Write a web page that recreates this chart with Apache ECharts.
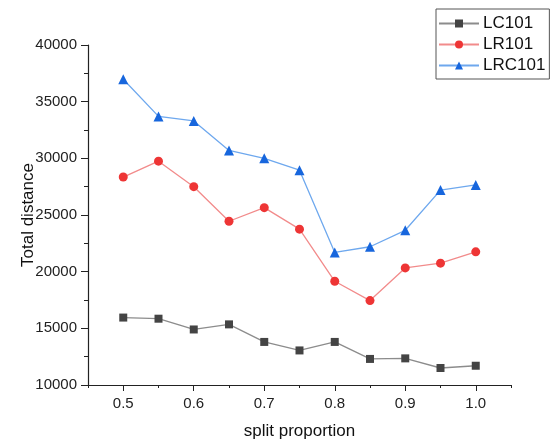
<!DOCTYPE html>
<html>
<head>
<meta charset="utf-8">
<script src="https://cdn.jsdelivr.net/npm/echarts@6/dist/echarts.min.js"></script>
<style>
html,body{margin:0;padding:0;background:#fff;}
#chart{width:551px;height:443px;}
</style>
</head>
<body>
<div id="chart"></div>
<script>
var proportions = [0.5, 0.55, 0.6, 0.65, 0.7, 0.75, 0.8, 0.85, 0.9, 0.95, 1.0];
var lc101  = [15950, 15850, 14900, 15350, 13800, 13050, 13800, 12300, 12350, 11500, 11700];
var lr101  = [28350, 29750, 27500, 24450, 25650, 23750, 19150, 17450, 20330, 20750, 21750];
var lrc101 = [36980, 33700, 33300, 30700, 30000, 28950, 21700, 22200, 23650, 27200, 27650];
var xMajorTicks = [0.5, 0.6, 0.7, 0.8, 0.9, 1.0];

function pairs(xs, ys){ return xs.map(function(x,i){ return [x, ys[i]]; }); }

var chart = echarts.init(document.getElementById('chart'), null, {renderer:'canvas'});
var axisColor = '#222';
var font = 'Liberation Sans, Arial, sans-serif';
chart.setOption({
  animation: false,
  backgroundColor: '#fff',
  grid: {left: 88, right: 40, top: 45, bottom: 58, containLabel: false, outerBoundsMode: 'none'},
  legend: {
    orient: 'vertical', left: 436, top: 9,
    padding: [6, 4, 5, 2],
    borderColor: '#555', borderWidth: 1, borderRadius: 0,
    itemWidth: 40, itemHeight: 10, itemGap: 4,
    textStyle: {fontFamily: font, fontSize: 17, color: '#111', padding: [0,0,0,-1]},
    data: ['LC101', 'LR101', 'LRC101']
  },
  xAxis: [{
    type: 'value', min: 0.45, max: 1.05, interval: 0.05,
    name: 'split proportion', nameLocation: 'middle', nameGap: 38, nameMoveOverlap: false,
    nameTextStyle: {fontFamily: font, fontSize: 17, color: '#111'},
    axisLine: {show: true, lineStyle: {color: axisColor, width: 1.2}},
    axisTick: {show: true, inside: false, length: 3, lineStyle: {color: axisColor}},
    axisLabel: {show: true, margin: 11, fontFamily: font, fontSize: 15, color: '#222',
      formatter: function(v){ var r = Math.round(v*100); return (r % 10 === 0) ? (r/100).toFixed(1) : ''; }},
    splitLine: {show: false}
  }, {
    type: 'value', min: 0.45, max: 1.05, interval: 0.05, position: 'bottom', gridIndex: 0,
    axisLine: {show: false},
    axisTick: {show: true, inside: false, length: 6, customValues: xMajorTicks, lineStyle: {color: axisColor}},
    axisLabel: {show: false},
    splitLine: {show: false}
  }],
  yAxis: {
    type: 'value', min: 10000, max: 40000, interval: 5000,
    name: 'Total distance', nameLocation: 'middle', nameGap: 51, nameMoveOverlap: false,
    nameTextStyle: {fontFamily: font, fontSize: 17, color: '#111'},
    axisLine: {show: true, lineStyle: {color: axisColor, width: 1.2}},
    axisTick: {show: true, inside: false, length: 7, lineStyle: {color: axisColor}},
    minorTick: {show: true, splitNumber: 2, length: 4, lineStyle: {color: axisColor}},
    axisLabel: {show: true, margin: 11, fontFamily: font, fontSize: 15, color: '#222',
      formatter: function(v){ return String(v); }},
    splitLine: {show: false}
  },
  series: [{
    name: 'LC101', type: 'line', xAxisIndex: 0, data: pairs(proportions, lc101),
    symbol: 'rect', symbolSize: 8,
    lineStyle: {color: '#8c8c8c', width: 1.3},
    itemStyle: {color: '#444444'}
  }, {
    name: 'LR101', type: 'line', xAxisIndex: 0, data: pairs(proportions, lr101),
    symbol: 'circle', symbolSize: 9,
    lineStyle: {color: '#f28b8b', width: 1.3},
    itemStyle: {color: '#ee3535'}
  }, {
    name: 'LRC101', type: 'line', xAxisIndex: 0, data: pairs(proportions, lrc101),
    symbol: 'triangle', symbolSize: 10,
    lineStyle: {color: '#6ea8ee', width: 1.3},
    itemStyle: {color: '#1766dd'}
  }]
});
</script>
</body>
</html>
